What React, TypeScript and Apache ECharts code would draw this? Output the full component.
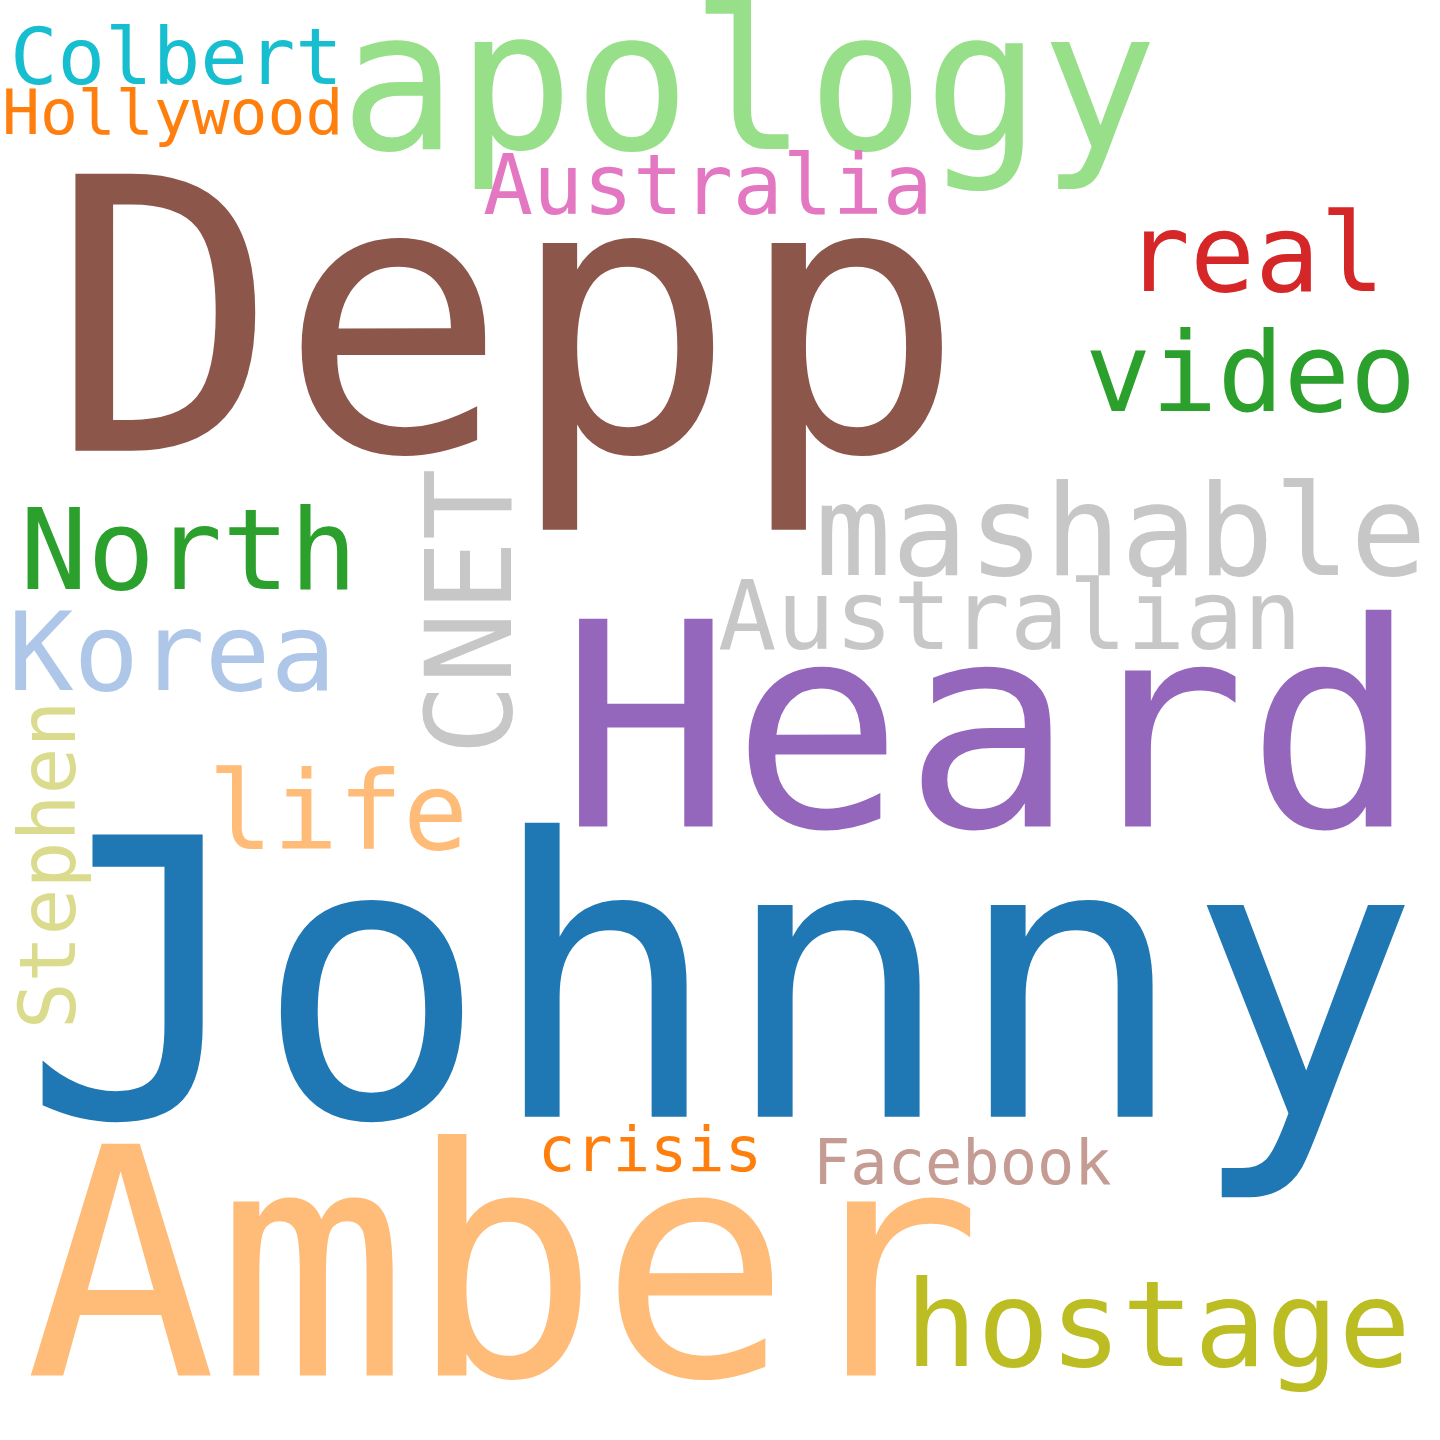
import { useEffect, useRef } from "react";
import * as echarts from "echarts";

// words of the cloud, their weight (font size) and where they sit
const words = [
  "Johnny", "Depp", "Amber", "Heard", "apology", "mashable", "hostage", "video",
  "CNET", "North", "Korea", "real", "life", "Australian", "Stephen", "Australia",
  "Colbert", "Hollywood", "Facebook", "crisis",
];
const weights = [387, 380, 318, 285, 194, 127, 120, 110, 119, 112, 109, 108, 108, 97, 78, 83, 79, 63, 62, 62];
const xs = [22, 50, 25, 560, 340, 815, 905, 1085, 470, 20, 8, 1125, 208, 718, 48, 483, 10, 2, 813, 538];
const baselines = [1122, 456, 1380, 830, 152, 577, 1368, 413, 612, 590, 692, 292, 850, 650, 865, 215, 85, 135, 1185, 1172];
const vertical = ["CNET", "Stephen"];
const palette = [
  "#1f77b4", "#8c564b", "#ffbb78", "#9467bd", "#98df8a", "#c7c7c7", "#bcbd22", "#2ca02c",
  "#c7c7c7", "#2ca02c", "#aec7e8", "#d62728", "#ffbb78", "#c7c7c7", "#dbdb8d", "#e377c2",
  "#17becf", "#ff7f0e", "#c49c94", "#ff7f0e",
];

export default function App() {
  const chartRef = useRef<HTMLDivElement>(null);

  useEffect(() => {
    document.body.style.margin = "0";
    if (!chartRef.current) return;
    const chart = echarts.init(chartRef.current, null, { renderer: "svg" });

    const data = words.map((w, i) => {
      const rot = vertical.includes(w);
      const size = weights[i];
      return {
        value: [xs[i], rot ? baselines[i] : baselines[i] - size * 0.36],
        label: {
          show: true,
          formatter: w,
          fontSize: size,
          color: palette[i],
          opacity: 1,
          rotate: rot ? 90 : 0,
          align: rot ? "center" : "left",
          verticalAlign: "middle",
          position: "inside",
        },
      };
    });

    chart.setOption({
      animation: false,
      backgroundColor: "#ffffff",
      grid: { left: 0, right: 0, top: 0, bottom: 0 },
      xAxis: { type: "value", min: 0, max: 1440, show: false },
      yAxis: { type: "value", min: 0, max: 1440, inverse: true, show: false },
      series: [
        {
          type: "scatter",
          symbolSize: 0,
          itemStyle: { opacity: 1 },
          emphasis: { disabled: true },
          data,
          label: { fontFamily: "DejaVu Sans Mono" },
        },
      ],
    });

    return () => chart.dispose();
  }, []);

  return <div ref={chartRef} style={{ width: 1440, height: 1440 }} />;
}
